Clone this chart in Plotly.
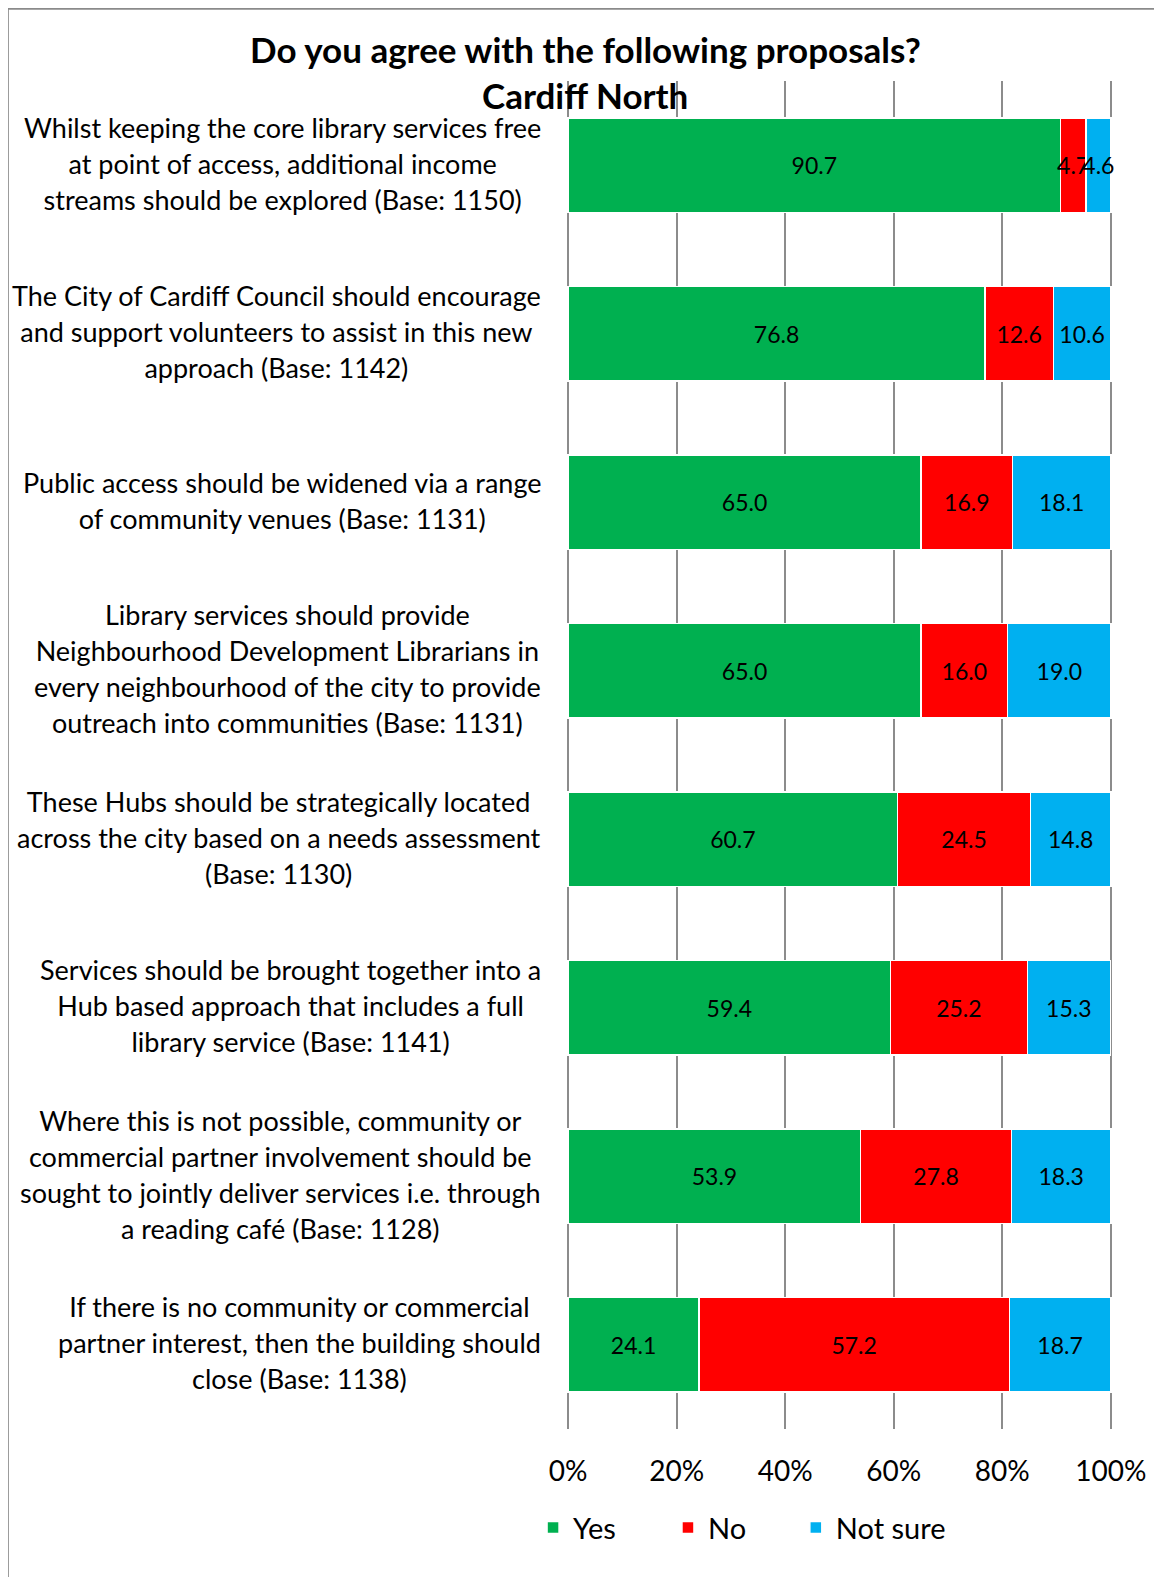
import plotly.graph_objects as go

categories = [
    "Whilst keeping the core library services free<br>at point of access, additional income<br>streams should be explored (Base: 1150)",
    "The City of Cardiff Council should encourage<br>and support volunteers to assist in this new<br>approach (Base: 1142)",
    "Public access should be widened via a range<br>of community venues (Base: 1131)",
    "Library services should provide<br>Neighbourhood Development Librarians in<br>every neighbourhood of the city to provide<br>outreach into communities (Base: 1131)",
    "These Hubs should be strategically located<br>across the city based on a needs assessment<br>(Base: 1130)",
    "Services should be brought together into a<br>Hub based approach that includes a full<br>library service (Base: 1141)",
    "Where this is not possible, community or<br>commercial partner involvement should be<br>sought to jointly deliver services i.e. through<br>a reading café (Base: 1128)",
    "If there is no community or commercial<br>partner interest, then the building should<br>close (Base: 1138)",
]
yes = [90.7, 76.8, 65.0, 65.0, 60.7, 59.4, 53.9, 24.1]
no = [4.7, 12.6, 16.9, 16.0, 24.5, 25.2, 27.8, 57.2]
not_sure = [4.6, 10.6, 18.1, 19.0, 14.8, 15.3, 18.3, 18.7]
series_names = ["Yes", "No", "Not sure"]
colors = ["#00B050", "#FF0000", "#00B0F0"]
tick_vals = [0, 20, 40, 60, 80, 100]
tick_text = ["0%", "20%", "40%", "60%", "80%", "100%"]
title_line1 = "Do you agree with the following proposals?"
title_line2 = "Cardiff North"

FONT = "Lato, 'Open Sans', sans-serif"
W, H = 1162, 1577
OFF = 8            # page body offset of the figure
S = 1162 / 1155    # measured-layout scale


def fig_x(d):
    return d * S - OFF


def fig_y(d):
    return d * S - OFF


PAD = 0.4  # small range padding so the 0% and 100% gridlines are drawn
x0p, x100p = fig_x(565), fig_x(1104)
extra = PAD / 100 * (x100p - x0p)
ML = x0p - extra
MR = W - (x100p + extra)
half = (1337 - 164) * S / 7 / 2
MT = fig_y(164) - half
MB = H - (fig_y(1337) + half)
pw, ph = W - ML - MR, H - MT - MB


def px(d):
    return (fig_x(d) - ML) / pw


def py(d):
    return (H - MB - fig_y(d)) / ph


keys = [f"c{i}" for i in range(len(categories))]
legend_ids = ["legend", "legend2", "legend3"]
legend_x = [550, 684, 811]

fig = go.Figure()
for name, vals, col, lid in zip(series_names, [yes, no, not_sure], colors, legend_ids):
    fig.add_trace(go.Bar(
        y=keys, x=vals, name=name, orientation="h", legend=lid,
        marker=dict(color=col, line=dict(color="white", width=1.5)),
        width=0.56,
        text=vals, texttemplate="%{x:.1f}", textposition="inside",
        insidetextanchor="middle", textangle=0,
        textfont=dict(color="black", size=23, family=FONT),
        cliponaxis=False, hoverinfo="skip",
    ))

annotations = []
for k, lab in zip(keys, categories):
    lines = lab.split("<br>")
    txt = "<br>".join(f"<span style='font-size:27px'>{l}</span>" for l in lines)
    annotations.append(dict(
        x=px(540), xref="paper", y=k, yref="y", yshift=2,
        xanchor="right", yanchor="middle", align="center",
        text=txt, showarrow=False,
        font=dict(family=FONT, size=27.7, color="black"),
    ))
for line, yp in [(title_line1, 48), (title_line2, 94)]:
    annotations.append(dict(
        x=px(582), xref="paper", y=py(yp), yref="paper",
        xanchor="center", yanchor="middle", text="<b>" + line + "</b>",
        showarrow=False, font=dict(family=FONT, size=35, color="black"),
    ))

# chart border (left and top)
bx = (0.5 - ML) / pw
by = (H - MB - 0.5) / ph
shapes = [
    dict(type="line", xref="paper", yref="paper",
         x0=bx, x1=px(1200), y0=by, y1=by,
         line=dict(color="#8a8a8a", width=2)),
    dict(type="line", xref="paper", yref="paper",
         x0=bx, x1=bx, y0=by, y1=py(1620),
         line=dict(color="#8a8a8a", width=2)),
]

legend_common = dict(orientation="h", xanchor="left", yanchor="middle",
                     y=py(1519),
                     font=dict(family=FONT, size=29, color="black"),
                     itemclick=False, itemdoubleclick=False,
                     bgcolor="rgba(0,0,0,0)")
legends = {}
for lid, lx in zip(legend_ids, legend_x):
    legends[lid] = dict(legend_common, x=(fig_x(lx) - 20 - ML) / pw)

fig.update_layout(
    width=W, height=H,
    margin=dict(l=ML, r=MR, t=MT, b=MB, autoexpand=False),
    paper_bgcolor="white", plot_bgcolor="white",
    barmode="stack", bargap=0.44,
    font=dict(family=FONT, color="black"),
    uniformtext=dict(mode="show", minsize=23),
    annotations=annotations, shapes=shapes,
    showlegend=True,
    xaxis=dict(range=[-PAD, 100 + PAD], tickvals=tick_vals, ticktext=tick_text,
               showgrid=True, gridcolor="#8c8c8c", gridwidth=2,
               zeroline=False, showline=False, ticks="",
               ticklabelstandoff=23,
               tickfont=dict(family=FONT, size=28, color="black"),
               fixedrange=True),
    yaxis=dict(categoryorder="array", categoryarray=keys,
               range=[len(keys) - 0.5, -0.5],
               showticklabels=False, showgrid=False, zeroline=False,
               showline=False, ticks="", fixedrange=True),
    **legends,
)

fig.write_html("out.html")
